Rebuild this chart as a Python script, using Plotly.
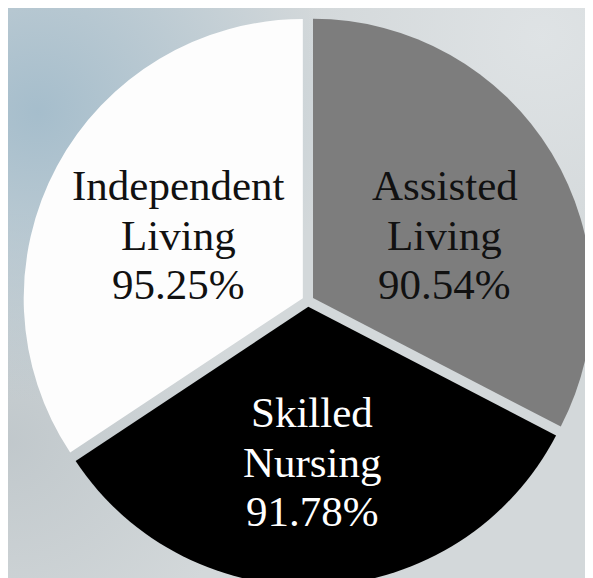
import base64
import plotly.graph_objects as go

categories = ["Assisted Living", "Skilled Nursing", "Independent Living"]
occupancy = [90.54, 91.78, 95.25]
pct_labels = ["90.54%", "91.78%", "95.25%"]
slice_colors = ["#7d7d7d", "#000000", "#fdfdfd"]
text_colors = ["#111111", "#ffffff", "#111111"]

# label placement (pixels in the 593x578 canvas): centre x, first baseline
label_cx = [437, 304, 170]
label_base = [199, 426, 199]
line_gap = 49.5
font_size = 43
W, H = 593, 578

# soft textured-looking backdrop (decorative only)
svg = """<svg xmlns='http://www.w3.org/2000/svg' width='593' height='578'>
<defs>
<radialGradient id='b1' cx='0.05' cy='0.18' r='0.5'>
<stop offset='0' stop-color='#a3bccb' stop-opacity='0.95'/>
<stop offset='1' stop-color='#a3bccb' stop-opacity='0'/>
</radialGradient>
<radialGradient id='b2' cx='0.0' cy='0.75' r='0.4'>
<stop offset='0' stop-color='#bcc4c8' stop-opacity='0.8'/>
<stop offset='1' stop-color='#bcc4c8' stop-opacity='0'/>
</radialGradient>
<radialGradient id='b3' cx='0.9' cy='0.05' r='0.4'>
<stop offset='0' stop-color='#e0e4e6' stop-opacity='0.9'/>
<stop offset='1' stop-color='#e0e4e6' stop-opacity='0'/>
</radialGradient>
</defs>
<rect width='593' height='578' fill='#d3d8da'/>
<rect width='593' height='578' fill='url(#b2)'/>
<rect width='593' height='578' fill='url(#b1)'/>
<rect width='593' height='578' fill='url(#b3)'/>
</svg>"""
bg_src = "data:image/svg+xml;base64," + base64.b64encode(svg.encode()).decode()

fig = go.Figure(go.Pie(
    labels=categories,
    values=occupancy,
    textinfo="none",
    sort=False,
    direction="clockwise",
    rotation=0,
    pull=[0.021, 0.021, 0.021],
    marker=dict(colors=slice_colors, line=dict(color="rgba(0,0,0,0)", width=0)),
    hoverinfo="skip",
    domain=dict(x=[14/593, 586/593], y=[0, 570/578]),
))

annotations = []
for cat, pct, cx, base, col in zip(categories, pct_labels, label_cx, label_base, text_colors):
    lines = cat.split() + [pct]
    for i, line in enumerate(lines):
        baseline = base + i * line_gap
        cy = baseline - 0.35 * font_size - 6
        annotations.append(dict(
            text=line, x=cx / W, y=1 - cy / H, xref="paper", yref="paper",
            xanchor="center", yanchor="middle", showarrow=False,
            font=dict(family="Liberation Serif", size=font_size, color=col),
        ))

fig.update_layout(
    width=W, height=H,
    margin=dict(l=0, r=0, t=0, b=0),
    paper_bgcolor="#d3d8da",
    plot_bgcolor="#d3d8da",
    showlegend=False,
    annotations=annotations,
    images=[dict(source=bg_src, xref="paper", yref="paper", x=0, y=1,
                 sizex=1, sizey=1, sizing="stretch", layer="below",
                 xanchor="left", yanchor="top")],
)

fig.write_html("out.html")
